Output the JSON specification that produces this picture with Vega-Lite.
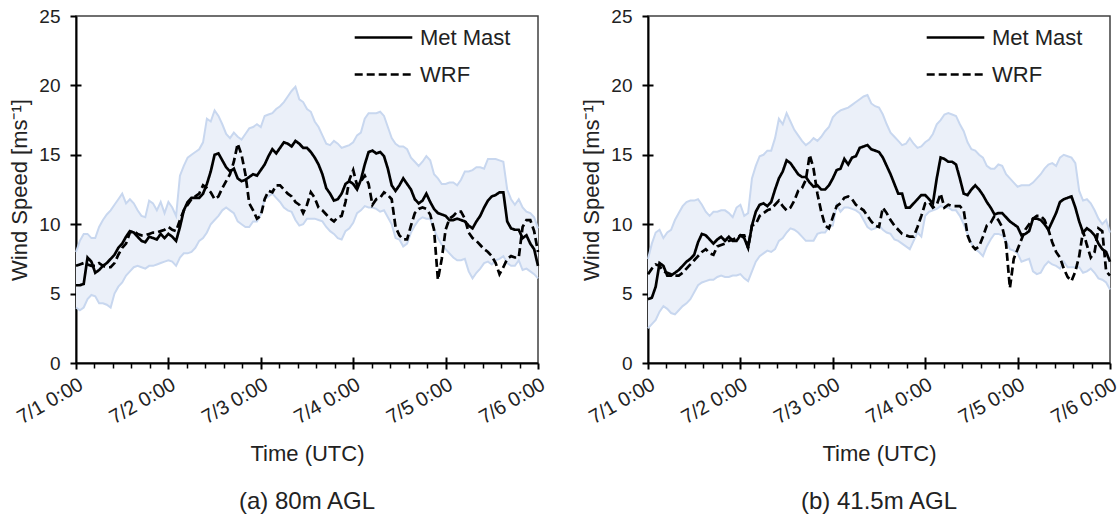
{
"$schema":"https://vega.github.io/schema/vega-lite/v6.json",
"background":"white",
"padding":{"left":8,"top":6,"right":6,"bottom":0},
"config":{
 "font":"Liberation Sans",
 "view":{"stroke":"#404040","strokeWidth":1.5},
 "axis":{"grid":false,"labelFont":"Liberation Sans","labelFontSize":19,"labelColor":"#222","titleFont":"Liberation Sans","titleFontSize":22,"titleFontWeight":"normal","titleColor":"#222","domainColor":"#000","domainWidth":2,"tickColor":"#000","tickWidth":2},
 "legend":{"labelFont":"Liberation Sans","labelFontSize":22,"labelColor":"#222"},
 "title":{"font":"Liberation Sans","fontSize":24,"fontWeight":"normal","color":"#222"}
},
"datasets":{"wind":[
{"p":"a","t":"2019-07-01T00:00Z","Met Mast":5.6,"WRF":7.0,"lo":4.0,"hi":8.0},
{"p":"a","t":"2019-07-01T01:00Z","Met Mast":5.6,"WRF":7.1,"lo":3.8,"hi":8.8},
{"p":"a","t":"2019-07-01T02:00Z","Met Mast":5.7,"WRF":7.2,"lo":4.0,"hi":9.3},
{"p":"a","t":"2019-07-01T03:00Z","Met Mast":7.6,"WRF":7.1,"lo":4.6,"hi":9.3},
{"p":"a","t":"2019-07-01T04:00Z","Met Mast":7.3,"WRF":7.0,"lo":4.9,"hi":9.0},
{"p":"a","t":"2019-07-01T05:00Z","Met Mast":6.5,"WRF":7.0,"lo":4.8,"hi":9.0},
{"p":"a","t":"2019-07-01T06:00Z","Met Mast":6.7,"WRF":7.2,"lo":4.3,"hi":9.8},
{"p":"a","t":"2019-07-01T07:00Z","Met Mast":7.0,"WRF":7.0,"lo":4.3,"hi":10.3},
{"p":"a","t":"2019-07-01T08:00Z","Met Mast":7.2,"WRF":6.9,"lo":4.2,"hi":10.7},
{"p":"a","t":"2019-07-01T09:00Z","Met Mast":7.5,"WRF":6.9,"lo":4.0,"hi":11.0},
{"p":"a","t":"2019-07-01T10:00Z","Met Mast":7.8,"WRF":7.2,"lo":5.0,"hi":11.4},
{"p":"a","t":"2019-07-01T11:00Z","Met Mast":8.3,"WRF":7.8,"lo":5.5,"hi":11.8},
{"p":"a","t":"2019-07-01T12:00Z","Met Mast":8.6,"WRF":8.3,"lo":5.8,"hi":12.2},
{"p":"a","t":"2019-07-01T13:00Z","Met Mast":9.1,"WRF":8.6,"lo":6.3,"hi":11.5},
{"p":"a","t":"2019-07-01T14:00Z","Met Mast":9.5,"WRF":9.4,"lo":6.6,"hi":11.8},
{"p":"a","t":"2019-07-01T15:00Z","Met Mast":9.4,"WRF":9.5,"lo":6.9,"hi":11.5},
{"p":"a","t":"2019-07-01T16:00Z","Met Mast":9.1,"WRF":9.3,"lo":7.0,"hi":11.0},
{"p":"a","t":"2019-07-01T17:00Z","Met Mast":8.8,"WRF":9.2,"lo":6.9,"hi":10.6},
{"p":"a","t":"2019-07-01T18:00Z","Met Mast":8.7,"WRF":9.2,"lo":6.8,"hi":10.5},
{"p":"a","t":"2019-07-01T19:00Z","Met Mast":9.1,"WRF":9.3,"lo":7.0,"hi":11.7},
{"p":"a","t":"2019-07-01T20:00Z","Met Mast":9.0,"WRF":9.4,"lo":7.0,"hi":11.5},
{"p":"a","t":"2019-07-01T21:00Z","Met Mast":8.9,"WRF":9.4,"lo":7.1,"hi":11.0},
{"p":"a","t":"2019-07-01T22:00Z","Met Mast":9.3,"WRF":9.5,"lo":7.2,"hi":11.6},
{"p":"a","t":"2019-07-01T23:00Z","Met Mast":9.0,"WRF":9.6,"lo":7.3,"hi":10.8},
{"p":"a","t":"2019-07-02T00:00Z","Met Mast":9.3,"WRF":9.8,"lo":7.4,"hi":11.6},
{"p":"a","t":"2019-07-02T01:00Z","Met Mast":9.1,"WRF":9.6,"lo":7.3,"hi":11.2},
{"p":"a","t":"2019-07-02T02:00Z","Met Mast":8.8,"WRF":9.5,"lo":7.0,"hi":10.6},
{"p":"a","t":"2019-07-02T03:00Z","Met Mast":9.8,"WRF":10.3,"lo":7.6,"hi":13.5},
{"p":"a","t":"2019-07-02T04:00Z","Met Mast":11.0,"WRF":11.0,"lo":7.9,"hi":14.2},
{"p":"a","t":"2019-07-02T05:00Z","Met Mast":11.6,"WRF":11.4,"lo":7.9,"hi":14.8},
{"p":"a","t":"2019-07-02T06:00Z","Met Mast":11.9,"WRF":11.8,"lo":8.0,"hi":15.0},
{"p":"a","t":"2019-07-02T07:00Z","Met Mast":11.9,"WRF":12.0,"lo":8.3,"hi":15.2},
{"p":"a","t":"2019-07-02T08:00Z","Met Mast":11.9,"WRF":12.2,"lo":8.8,"hi":15.4},
{"p":"a","t":"2019-07-02T09:00Z","Met Mast":12.2,"WRF":12.8,"lo":9.0,"hi":15.9},
{"p":"a","t":"2019-07-02T10:00Z","Met Mast":12.9,"WRF":12.6,"lo":9.4,"hi":17.6},
{"p":"a","t":"2019-07-02T11:00Z","Met Mast":13.8,"WRF":12.3,"lo":10.0,"hi":17.4},
{"p":"a","t":"2019-07-02T12:00Z","Met Mast":15.0,"WRF":11.8,"lo":10.3,"hi":18.2},
{"p":"a","t":"2019-07-02T13:00Z","Met Mast":15.1,"WRF":12.0,"lo":10.6,"hi":17.8},
{"p":"a","t":"2019-07-02T14:00Z","Met Mast":14.6,"WRF":12.6,"lo":11.0,"hi":17.2},
{"p":"a","t":"2019-07-02T15:00Z","Met Mast":14.1,"WRF":13.1,"lo":11.2,"hi":16.5},
{"p":"a","t":"2019-07-02T16:00Z","Met Mast":13.8,"WRF":13.6,"lo":11.0,"hi":16.2},
{"p":"a","t":"2019-07-02T17:00Z","Met Mast":14.0,"WRF":14.5,"lo":10.8,"hi":16.6},
{"p":"a","t":"2019-07-02T18:00Z","Met Mast":13.3,"WRF":15.8,"lo":10.2,"hi":16.3},
{"p":"a","t":"2019-07-02T19:00Z","Met Mast":13.1,"WRF":15.0,"lo":10.0,"hi":16.1},
{"p":"a","t":"2019-07-02T20:00Z","Met Mast":13.2,"WRF":13.6,"lo":9.8,"hi":16.5},
{"p":"a","t":"2019-07-02T21:00Z","Met Mast":13.4,"WRF":11.5,"lo":9.8,"hi":16.9},
{"p":"a","t":"2019-07-02T22:00Z","Met Mast":13.6,"WRF":11.0,"lo":10.2,"hi":17.0},
{"p":"a","t":"2019-07-02T23:00Z","Met Mast":13.5,"WRF":10.4,"lo":10.2,"hi":17.2},
{"p":"a","t":"2019-07-03T00:00Z","Met Mast":13.9,"WRF":10.6,"lo":10.7,"hi":17.0},
{"p":"a","t":"2019-07-03T01:00Z","Met Mast":14.3,"WRF":11.8,"lo":11.8,"hi":17.8},
{"p":"a","t":"2019-07-03T02:00Z","Met Mast":14.9,"WRF":12.4,"lo":12.0,"hi":17.9},
{"p":"a","t":"2019-07-03T03:00Z","Met Mast":15.4,"WRF":12.3,"lo":12.2,"hi":18.0},
{"p":"a","t":"2019-07-03T04:00Z","Met Mast":15.1,"WRF":12.8,"lo":11.9,"hi":18.3},
{"p":"a","t":"2019-07-03T05:00Z","Met Mast":15.5,"WRF":12.8,"lo":11.6,"hi":18.5},
{"p":"a","t":"2019-07-03T06:00Z","Met Mast":15.9,"WRF":12.5,"lo":11.2,"hi":18.8},
{"p":"a","t":"2019-07-03T07:00Z","Met Mast":15.8,"WRF":12.2,"lo":11.0,"hi":19.2},
{"p":"a","t":"2019-07-03T08:00Z","Met Mast":15.6,"WRF":12.0,"lo":10.9,"hi":19.6},
{"p":"a","t":"2019-07-03T09:00Z","Met Mast":16.0,"WRF":11.6,"lo":10.3,"hi":19.9},
{"p":"a","t":"2019-07-03T10:00Z","Met Mast":15.8,"WRF":11.4,"lo":9.9,"hi":19.0},
{"p":"a","t":"2019-07-03T11:00Z","Met Mast":15.5,"WRF":10.8,"lo":10.0,"hi":18.8},
{"p":"a","t":"2019-07-03T12:00Z","Met Mast":15.5,"WRF":11.4,"lo":10.4,"hi":18.3},
{"p":"a","t":"2019-07-03T13:00Z","Met Mast":15.2,"WRF":12.3,"lo":10.4,"hi":18.1},
{"p":"a","t":"2019-07-03T14:00Z","Met Mast":14.8,"WRF":11.9,"lo":10.4,"hi":17.4},
{"p":"a","t":"2019-07-03T15:00Z","Met Mast":14.3,"WRF":11.2,"lo":10.3,"hi":17.0},
{"p":"a","t":"2019-07-03T16:00Z","Met Mast":13.6,"WRF":11.0,"lo":10.2,"hi":16.4},
{"p":"a","t":"2019-07-03T17:00Z","Met Mast":12.6,"WRF":10.7,"lo":9.8,"hi":15.8},
{"p":"a","t":"2019-07-03T18:00Z","Met Mast":12.2,"WRF":10.4,"lo":9.5,"hi":15.7},
{"p":"a","t":"2019-07-03T19:00Z","Met Mast":11.7,"WRF":10.2,"lo":9.3,"hi":16.0},
{"p":"a","t":"2019-07-03T20:00Z","Met Mast":11.8,"WRF":10.5,"lo":9.0,"hi":15.8},
{"p":"a","t":"2019-07-03T21:00Z","Met Mast":12.2,"WRF":10.6,"lo":8.9,"hi":15.5},
{"p":"a","t":"2019-07-03T22:00Z","Met Mast":12.9,"WRF":11.6,"lo":9.5,"hi":15.6},
{"p":"a","t":"2019-07-03T23:00Z","Met Mast":13.1,"WRF":13.2,"lo":9.7,"hi":15.7},
{"p":"a","t":"2019-07-04T00:00Z","Met Mast":12.9,"WRF":13.9,"lo":10.1,"hi":15.9},
{"p":"a","t":"2019-07-04T01:00Z","Met Mast":12.5,"WRF":12.8,"lo":10.8,"hi":16.4},
{"p":"a","t":"2019-07-04T02:00Z","Met Mast":13.2,"WRF":13.1,"lo":11.0,"hi":16.6},
{"p":"a","t":"2019-07-04T03:00Z","Met Mast":14.3,"WRF":13.5,"lo":11.3,"hi":17.6},
{"p":"a","t":"2019-07-04T04:00Z","Met Mast":15.2,"WRF":12.9,"lo":11.2,"hi":18.0},
{"p":"a","t":"2019-07-04T05:00Z","Met Mast":15.3,"WRF":11.4,"lo":11.2,"hi":18.0},
{"p":"a","t":"2019-07-04T06:00Z","Met Mast":15.1,"WRF":11.8,"lo":11.1,"hi":18.0},
{"p":"a","t":"2019-07-04T07:00Z","Met Mast":15.2,"WRF":11.9,"lo":10.9,"hi":18.1},
{"p":"a","t":"2019-07-04T08:00Z","Met Mast":14.9,"WRF":12.3,"lo":11.0,"hi":17.8},
{"p":"a","t":"2019-07-04T09:00Z","Met Mast":14.0,"WRF":12.1,"lo":10.5,"hi":17.0},
{"p":"a","t":"2019-07-04T10:00Z","Met Mast":12.8,"WRF":11.8,"lo":10.0,"hi":16.2},
{"p":"a","t":"2019-07-04T11:00Z","Met Mast":12.4,"WRF":9.8,"lo":9.0,"hi":15.8},
{"p":"a","t":"2019-07-04T12:00Z","Met Mast":12.8,"WRF":9.2,"lo":8.9,"hi":15.6},
{"p":"a","t":"2019-07-04T13:00Z","Met Mast":13.3,"WRF":8.9,"lo":8.4,"hi":15.6},
{"p":"a","t":"2019-07-04T14:00Z","Met Mast":12.9,"WRF":8.9,"lo":8.6,"hi":15.4},
{"p":"a","t":"2019-07-04T15:00Z","Met Mast":12.5,"WRF":9.9,"lo":9.4,"hi":14.8},
{"p":"a","t":"2019-07-04T16:00Z","Met Mast":11.8,"WRF":10.8,"lo":9.9,"hi":14.5},
{"p":"a","t":"2019-07-04T17:00Z","Met Mast":11.5,"WRF":11.1,"lo":10.3,"hi":14.2},
{"p":"a","t":"2019-07-04T18:00Z","Met Mast":11.7,"WRF":11.2,"lo":10.5,"hi":14.5},
{"p":"a","t":"2019-07-04T19:00Z","Met Mast":12.2,"WRF":11.1,"lo":10.4,"hi":14.9},
{"p":"a","t":"2019-07-04T20:00Z","Met Mast":11.6,"WRF":10.7,"lo":10.4,"hi":14.6},
{"p":"a","t":"2019-07-04T21:00Z","Met Mast":11.1,"WRF":9.6,"lo":9.6,"hi":13.6},
{"p":"a","t":"2019-07-04T22:00Z","Met Mast":10.8,"WRF":6.0,"lo":9.0,"hi":13.3},
{"p":"a","t":"2019-07-04T23:00Z","Met Mast":10.7,"WRF":7.5,"lo":8.5,"hi":12.9},
{"p":"a","t":"2019-07-05T00:00Z","Met Mast":10.6,"WRF":9.6,"lo":8.2,"hi":12.9},
{"p":"a","t":"2019-07-05T01:00Z","Met Mast":10.3,"WRF":10.4,"lo":7.9,"hi":13.0},
{"p":"a","t":"2019-07-05T02:00Z","Met Mast":10.3,"WRF":10.6,"lo":7.6,"hi":13.0},
{"p":"a","t":"2019-07-05T03:00Z","Met Mast":10.4,"WRF":10.9,"lo":7.4,"hi":12.8},
{"p":"a","t":"2019-07-05T04:00Z","Met Mast":10.3,"WRF":10.9,"lo":7.4,"hi":13.2},
{"p":"a","t":"2019-07-05T05:00Z","Met Mast":10.2,"WRF":10.4,"lo":7.5,"hi":13.8},
{"p":"a","t":"2019-07-05T06:00Z","Met Mast":9.9,"WRF":9.4,"lo":6.6,"hi":13.8},
{"p":"a","t":"2019-07-05T07:00Z","Met Mast":9.7,"WRF":9.0,"lo":6.1,"hi":13.9},
{"p":"a","t":"2019-07-05T08:00Z","Met Mast":10.2,"WRF":8.8,"lo":6.5,"hi":14.1},
{"p":"a","t":"2019-07-05T09:00Z","Met Mast":10.6,"WRF":8.5,"lo":6.8,"hi":14.1},
{"p":"a","t":"2019-07-05T10:00Z","Met Mast":11.2,"WRF":8.2,"lo":7.2,"hi":14.0},
{"p":"a","t":"2019-07-05T11:00Z","Met Mast":11.7,"WRF":8.0,"lo":7.3,"hi":14.7},
{"p":"a","t":"2019-07-05T12:00Z","Met Mast":12.0,"WRF":7.7,"lo":7.1,"hi":14.7},
{"p":"a","t":"2019-07-05T13:00Z","Met Mast":12.1,"WRF":7.2,"lo":7.4,"hi":14.7},
{"p":"a","t":"2019-07-05T14:00Z","Met Mast":12.3,"WRF":6.4,"lo":7.5,"hi":14.6},
{"p":"a","t":"2019-07-05T15:00Z","Met Mast":12.3,"WRF":6.9,"lo":7.7,"hi":14.5},
{"p":"a","t":"2019-07-05T16:00Z","Met Mast":10.2,"WRF":7.5,"lo":7.2,"hi":12.5},
{"p":"a","t":"2019-07-05T17:00Z","Met Mast":9.7,"WRF":7.7,"lo":7.0,"hi":11.8},
{"p":"a","t":"2019-07-05T18:00Z","Met Mast":9.6,"WRF":7.6,"lo":7.0,"hi":11.4},
{"p":"a","t":"2019-07-05T19:00Z","Met Mast":9.6,"WRF":7.6,"lo":7.4,"hi":11.8},
{"p":"a","t":"2019-07-05T20:00Z","Met Mast":9.0,"WRF":9.8,"lo":6.7,"hi":11.2},
{"p":"a","t":"2019-07-05T21:00Z","Met Mast":9.2,"WRF":10.3,"lo":6.8,"hi":10.9},
{"p":"a","t":"2019-07-05T22:00Z","Met Mast":8.6,"WRF":10.3,"lo":6.6,"hi":10.8},
{"p":"a","t":"2019-07-05T23:00Z","Met Mast":8.2,"WRF":9.5,"lo":6.4,"hi":10.5},
{"p":"a","t":"2019-07-06T00:00Z","Met Mast":7.0,"WRF":8.0,"lo":6.1,"hi":9.7},
{"p":"b","t":"2019-07-01T00:00Z","Met Mast":4.6,"WRF":6.4,"lo":2.5,"hi":7.5},
{"p":"b","t":"2019-07-01T01:00Z","Met Mast":4.7,"WRF":6.8,"lo":2.8,"hi":8.6},
{"p":"b","t":"2019-07-01T02:00Z","Met Mast":5.5,"WRF":7.1,"lo":3.1,"hi":9.4},
{"p":"b","t":"2019-07-01T03:00Z","Met Mast":7.2,"WRF":7.0,"lo":3.7,"hi":9.6},
{"p":"b","t":"2019-07-01T04:00Z","Met Mast":7.0,"WRF":6.6,"lo":4.1,"hi":9.0},
{"p":"b","t":"2019-07-01T05:00Z","Met Mast":6.3,"WRF":6.5,"lo":3.9,"hi":9.4},
{"p":"b","t":"2019-07-01T06:00Z","Met Mast":6.3,"WRF":6.4,"lo":3.6,"hi":9.6},
{"p":"b","t":"2019-07-01T07:00Z","Met Mast":6.5,"WRF":6.3,"lo":3.5,"hi":10.3},
{"p":"b","t":"2019-07-01T08:00Z","Met Mast":6.7,"WRF":6.3,"lo":3.8,"hi":10.8},
{"p":"b","t":"2019-07-01T09:00Z","Met Mast":7.0,"WRF":6.5,"lo":4.1,"hi":11.3},
{"p":"b","t":"2019-07-01T10:00Z","Met Mast":7.3,"WRF":6.8,"lo":4.3,"hi":11.6},
{"p":"b","t":"2019-07-01T11:00Z","Met Mast":7.5,"WRF":7.1,"lo":4.6,"hi":11.7},
{"p":"b","t":"2019-07-01T12:00Z","Met Mast":7.8,"WRF":7.4,"lo":5.1,"hi":11.7},
{"p":"b","t":"2019-07-01T13:00Z","Met Mast":8.7,"WRF":7.7,"lo":5.6,"hi":11.8},
{"p":"b","t":"2019-07-01T14:00Z","Met Mast":9.3,"WRF":8.0,"lo":5.8,"hi":11.4},
{"p":"b","t":"2019-07-01T15:00Z","Met Mast":9.2,"WRF":8.2,"lo":5.9,"hi":10.9},
{"p":"b","t":"2019-07-01T16:00Z","Met Mast":8.9,"WRF":7.9,"lo":6.0,"hi":10.6},
{"p":"b","t":"2019-07-01T17:00Z","Met Mast":8.6,"WRF":7.8,"lo":6.0,"hi":10.9},
{"p":"b","t":"2019-07-01T18:00Z","Met Mast":8.9,"WRF":8.4,"lo":6.2,"hi":10.9},
{"p":"b","t":"2019-07-01T19:00Z","Met Mast":9.1,"WRF":8.5,"lo":6.3,"hi":11.0},
{"p":"b","t":"2019-07-01T20:00Z","Met Mast":8.8,"WRF":8.6,"lo":6.2,"hi":11.0},
{"p":"b","t":"2019-07-01T21:00Z","Met Mast":9.1,"WRF":8.8,"lo":6.2,"hi":10.8},
{"p":"b","t":"2019-07-01T22:00Z","Met Mast":8.8,"WRF":8.9,"lo":6.3,"hi":10.5},
{"p":"b","t":"2019-07-01T23:00Z","Met Mast":8.8,"WRF":9.0,"lo":6.3,"hi":11.2},
{"p":"b","t":"2019-07-02T00:00Z","Met Mast":9.2,"WRF":9.2,"lo":6.4,"hi":11.4},
{"p":"b","t":"2019-07-02T01:00Z","Met Mast":9.0,"WRF":9.2,"lo":6.1,"hi":10.6},
{"p":"b","t":"2019-07-02T02:00Z","Met Mast":8.3,"WRF":8.3,"lo":5.9,"hi":10.8},
{"p":"b","t":"2019-07-02T03:00Z","Met Mast":9.9,"WRF":9.9,"lo":6.6,"hi":13.3},
{"p":"b","t":"2019-07-02T04:00Z","Met Mast":10.9,"WRF":10.0,"lo":7.3,"hi":14.2},
{"p":"b","t":"2019-07-02T05:00Z","Met Mast":11.4,"WRF":10.6,"lo":7.7,"hi":14.9},
{"p":"b","t":"2019-07-02T06:00Z","Met Mast":11.5,"WRF":10.8,"lo":7.9,"hi":15.0},
{"p":"b","t":"2019-07-02T07:00Z","Met Mast":11.3,"WRF":11.0,"lo":8.1,"hi":15.3},
{"p":"b","t":"2019-07-02T08:00Z","Met Mast":11.6,"WRF":11.1,"lo":8.0,"hi":15.3},
{"p":"b","t":"2019-07-02T09:00Z","Met Mast":12.5,"WRF":11.4,"lo":8.2,"hi":16.2},
{"p":"b","t":"2019-07-02T10:00Z","Met Mast":13.3,"WRF":11.7,"lo":8.8,"hi":17.6},
{"p":"b","t":"2019-07-02T11:00Z","Met Mast":13.8,"WRF":11.3,"lo":9.0,"hi":17.2},
{"p":"b","t":"2019-07-02T12:00Z","Met Mast":14.6,"WRF":11.0,"lo":9.4,"hi":18.0},
{"p":"b","t":"2019-07-02T13:00Z","Met Mast":14.4,"WRF":11.2,"lo":9.7,"hi":17.4},
{"p":"b","t":"2019-07-02T14:00Z","Met Mast":14.0,"WRF":11.7,"lo":9.6,"hi":16.8},
{"p":"b","t":"2019-07-02T15:00Z","Met Mast":13.6,"WRF":12.4,"lo":9.4,"hi":16.4},
{"p":"b","t":"2019-07-02T16:00Z","Met Mast":13.4,"WRF":12.6,"lo":9.1,"hi":16.0},
{"p":"b","t":"2019-07-02T17:00Z","Met Mast":13.4,"WRF":13.2,"lo":8.8,"hi":15.7},
{"p":"b","t":"2019-07-02T18:00Z","Met Mast":13.0,"WRF":15.0,"lo":8.8,"hi":15.9},
{"p":"b","t":"2019-07-02T19:00Z","Met Mast":12.7,"WRF":14.0,"lo":8.8,"hi":16.2},
{"p":"b","t":"2019-07-02T20:00Z","Met Mast":12.8,"WRF":12.2,"lo":9.3,"hi":16.0},
{"p":"b","t":"2019-07-02T21:00Z","Met Mast":12.5,"WRF":10.9,"lo":9.4,"hi":16.3},
{"p":"b","t":"2019-07-02T22:00Z","Met Mast":12.5,"WRF":9.9,"lo":9.4,"hi":16.7},
{"p":"b","t":"2019-07-02T23:00Z","Met Mast":12.8,"WRF":9.7,"lo":9.8,"hi":17.0},
{"p":"b","t":"2019-07-03T00:00Z","Met Mast":13.3,"WRF":10.5,"lo":9.9,"hi":17.7},
{"p":"b","t":"2019-07-03T01:00Z","Met Mast":13.9,"WRF":11.3,"lo":11.4,"hi":18.0},
{"p":"b","t":"2019-07-03T02:00Z","Met Mast":14.0,"WRF":11.5,"lo":10.9,"hi":18.2},
{"p":"b","t":"2019-07-03T03:00Z","Met Mast":14.7,"WRF":11.9,"lo":11.2,"hi":18.3},
{"p":"b","t":"2019-07-03T04:00Z","Met Mast":14.3,"WRF":12.0,"lo":11.2,"hi":18.4},
{"p":"b","t":"2019-07-03T05:00Z","Met Mast":14.8,"WRF":11.8,"lo":11.1,"hi":18.6},
{"p":"b","t":"2019-07-03T06:00Z","Met Mast":14.9,"WRF":11.4,"lo":11.0,"hi":18.8},
{"p":"b","t":"2019-07-03T07:00Z","Met Mast":15.5,"WRF":11.2,"lo":10.8,"hi":19.0},
{"p":"b","t":"2019-07-03T08:00Z","Met Mast":15.6,"WRF":11.0,"lo":10.3,"hi":19.2},
{"p":"b","t":"2019-07-03T09:00Z","Met Mast":15.7,"WRF":10.6,"lo":9.8,"hi":19.3},
{"p":"b","t":"2019-07-03T10:00Z","Met Mast":15.4,"WRF":10.2,"lo":9.6,"hi":18.7},
{"p":"b","t":"2019-07-03T11:00Z","Met Mast":15.3,"WRF":9.9,"lo":9.7,"hi":18.5},
{"p":"b","t":"2019-07-03T12:00Z","Met Mast":15.2,"WRF":9.8,"lo":9.9,"hi":18.4},
{"p":"b","t":"2019-07-03T13:00Z","Met Mast":14.8,"WRF":11.2,"lo":9.6,"hi":17.9},
{"p":"b","t":"2019-07-03T14:00Z","Met Mast":14.2,"WRF":10.8,"lo":9.4,"hi":17.2},
{"p":"b","t":"2019-07-03T15:00Z","Met Mast":13.6,"WRF":10.3,"lo":9.3,"hi":16.6},
{"p":"b","t":"2019-07-03T16:00Z","Met Mast":12.9,"WRF":9.9,"lo":8.9,"hi":16.3},
{"p":"b","t":"2019-07-03T17:00Z","Met Mast":12.2,"WRF":9.6,"lo":8.8,"hi":16.0},
{"p":"b","t":"2019-07-03T18:00Z","Met Mast":12.2,"WRF":9.3,"lo":8.6,"hi":15.7},
{"p":"b","t":"2019-07-03T19:00Z","Met Mast":11.2,"WRF":9.2,"lo":8.4,"hi":15.8},
{"p":"b","t":"2019-07-03T20:00Z","Met Mast":11.2,"WRF":9.1,"lo":8.2,"hi":16.2},
{"p":"b","t":"2019-07-03T21:00Z","Met Mast":11.5,"WRF":9.1,"lo":8.8,"hi":15.8},
{"p":"b","t":"2019-07-03T22:00Z","Met Mast":11.8,"WRF":9.8,"lo":9.4,"hi":15.5},
{"p":"b","t":"2019-07-03T23:00Z","Met Mast":12.1,"WRF":10.6,"lo":9.1,"hi":15.6},
{"p":"b","t":"2019-07-04T00:00Z","Met Mast":12.1,"WRF":11.5,"lo":10.6,"hi":15.9},
{"p":"b","t":"2019-07-04T01:00Z","Met Mast":11.8,"WRF":11.6,"lo":10.9,"hi":16.1},
{"p":"b","t":"2019-07-04T02:00Z","Met Mast":11.5,"WRF":11.2,"lo":11.0,"hi":16.5},
{"p":"b","t":"2019-07-04T03:00Z","Met Mast":13.3,"WRF":11.4,"lo":11.1,"hi":17.2},
{"p":"b","t":"2019-07-04T04:00Z","Met Mast":14.8,"WRF":12.2,"lo":11.3,"hi":17.5},
{"p":"b","t":"2019-07-04T05:00Z","Met Mast":14.7,"WRF":11.2,"lo":11.2,"hi":17.9},
{"p":"b","t":"2019-07-04T06:00Z","Met Mast":14.5,"WRF":11.4,"lo":11.2,"hi":18.0},
{"p":"b","t":"2019-07-04T07:00Z","Met Mast":14.5,"WRF":11.3,"lo":11.0,"hi":17.9},
{"p":"b","t":"2019-07-04T08:00Z","Met Mast":14.3,"WRF":11.3,"lo":11.0,"hi":17.8},
{"p":"b","t":"2019-07-04T09:00Z","Met Mast":13.3,"WRF":11.3,"lo":10.6,"hi":17.2},
{"p":"b","t":"2019-07-04T10:00Z","Met Mast":12.2,"WRF":11.0,"lo":10.0,"hi":16.7},
{"p":"b","t":"2019-07-04T11:00Z","Met Mast":12.1,"WRF":9.2,"lo":9.3,"hi":15.9},
{"p":"b","t":"2019-07-04T12:00Z","Met Mast":12.5,"WRF":8.5,"lo":8.6,"hi":15.4},
{"p":"b","t":"2019-07-04T13:00Z","Met Mast":12.8,"WRF":8.2,"lo":8.2,"hi":15.3},
{"p":"b","t":"2019-07-04T14:00Z","Met Mast":12.5,"WRF":8.4,"lo":8.0,"hi":15.0},
{"p":"b","t":"2019-07-04T15:00Z","Met Mast":12.1,"WRF":9.1,"lo":7.7,"hi":14.8},
{"p":"b","t":"2019-07-04T16:00Z","Met Mast":11.6,"WRF":9.9,"lo":8.4,"hi":14.2},
{"p":"b","t":"2019-07-04T17:00Z","Met Mast":11.2,"WRF":10.1,"lo":8.9,"hi":14.0},
{"p":"b","t":"2019-07-04T18:00Z","Met Mast":10.7,"WRF":10.6,"lo":9.3,"hi":14.0},
{"p":"b","t":"2019-07-04T19:00Z","Met Mast":10.8,"WRF":10.3,"lo":9.3,"hi":14.3},
{"p":"b","t":"2019-07-04T20:00Z","Met Mast":10.8,"WRF":9.8,"lo":9.2,"hi":14.2},
{"p":"b","t":"2019-07-04T21:00Z","Met Mast":10.5,"WRF":8.6,"lo":8.8,"hi":13.6},
{"p":"b","t":"2019-07-04T22:00Z","Met Mast":10.2,"WRF":5.4,"lo":8.2,"hi":13.3},
{"p":"b","t":"2019-07-04T23:00Z","Met Mast":10.0,"WRF":7.5,"lo":8.1,"hi":13.0},
{"p":"b","t":"2019-07-05T00:00Z","Met Mast":9.8,"WRF":8.2,"lo":7.9,"hi":12.7},
{"p":"b","t":"2019-07-05T01:00Z","Met Mast":9.2,"WRF":8.9,"lo":7.3,"hi":12.8},
{"p":"b","t":"2019-07-05T02:00Z","Met Mast":9.3,"WRF":9.6,"lo":7.4,"hi":12.8},
{"p":"b","t":"2019-07-05T03:00Z","Met Mast":9.5,"WRF":10.0,"lo":7.5,"hi":12.8},
{"p":"b","t":"2019-07-05T04:00Z","Met Mast":10.4,"WRF":10.4,"lo":6.6,"hi":13.0},
{"p":"b","t":"2019-07-05T05:00Z","Met Mast":10.4,"WRF":10.6,"lo":6.4,"hi":13.3},
{"p":"b","t":"2019-07-05T06:00Z","Met Mast":10.3,"WRF":10.6,"lo":6.5,"hi":13.6},
{"p":"b","t":"2019-07-05T07:00Z","Met Mast":10.0,"WRF":10.3,"lo":7.0,"hi":14.0},
{"p":"b","t":"2019-07-05T08:00Z","Met Mast":9.6,"WRF":9.6,"lo":7.3,"hi":14.3},
{"p":"b","t":"2019-07-05T09:00Z","Met Mast":10.2,"WRF":8.7,"lo":7.1,"hi":14.4},
{"p":"b","t":"2019-07-05T10:00Z","Met Mast":10.8,"WRF":8.0,"lo":7.0,"hi":14.2},
{"p":"b","t":"2019-07-05T11:00Z","Met Mast":11.6,"WRF":7.6,"lo":6.8,"hi":14.8},
{"p":"b","t":"2019-07-05T12:00Z","Met Mast":11.8,"WRF":6.8,"lo":7.3,"hi":15.0},
{"p":"b","t":"2019-07-05T13:00Z","Met Mast":11.9,"WRF":6.2,"lo":6.9,"hi":14.9},
{"p":"b","t":"2019-07-05T14:00Z","Met Mast":12.0,"WRF":5.9,"lo":6.9,"hi":14.8},
{"p":"b","t":"2019-07-05T15:00Z","Met Mast":11.2,"WRF":6.6,"lo":6.9,"hi":14.4},
{"p":"b","t":"2019-07-05T16:00Z","Met Mast":10.2,"WRF":7.7,"lo":6.9,"hi":12.4},
{"p":"b","t":"2019-07-05T17:00Z","Met Mast":9.4,"WRF":9.5,"lo":6.5,"hi":11.7},
{"p":"b","t":"2019-07-05T18:00Z","Met Mast":9.7,"WRF":8.5,"lo":6.6,"hi":11.8},
{"p":"b","t":"2019-07-05T19:00Z","Met Mast":9.5,"WRF":7.6,"lo":6.8,"hi":11.5},
{"p":"b","t":"2019-07-05T20:00Z","Met Mast":9.2,"WRF":8.0,"lo":6.5,"hi":11.0},
{"p":"b","t":"2019-07-05T21:00Z","Met Mast":8.6,"WRF":9.7,"lo":6.1,"hi":10.4},
{"p":"b","t":"2019-07-05T22:00Z","Met Mast":8.2,"WRF":9.5,"lo":6.0,"hi":10.0},
{"p":"b","t":"2019-07-05T23:00Z","Met Mast":8.0,"WRF":6.6,"lo":5.8,"hi":10.3},
{"p":"b","t":"2019-07-06T00:00Z","Met Mast":7.3,"WRF":6.3,"lo":5.3,"hi":9.4}
]},
"spacing":31,
"resolve":{"legend":{"strokeDash":"independent"},"scale":{"strokeDash":"independent"}},
"hconcat":[
{
 "width":462,"height":347,
 "data":{"name":"wind"},
 "transform":[{"filter":"datum.p === 'a'"}],
 "title":{"text":"(a) 80m AGL","orient":"bottom","frame":"group","offset":26},
 "resolve":{"axis":{"x":"independent","y":"independent"}},
 "layer":[
  {"mark":{"type":"area","color":"#ebf0f9"},
   "encoding":{
    "x":{"field":"t","type":"temporal","scale":{"type":"utc","domain":[1561939200000,1562371200000],"nice":false},
         "axis":{"orient":"bottom","values":[1561956480000,1561973760000,1561991040000,1562008320000,1562042880000,1562060160000,1562077440000,1562094720000,1562129280000,1562146560000,1562163840000,1562181120000,1562215680000,1562232960000,1562250240000,1562267520000,1562302080000,1562319360000,1562336640000,1562353920000],"labels":false,"domain":false,"tickSize":5,"tickWidth":1.5,"title":null}},
    "y":{"field":"lo","type":"quantitative","scale":{"domain":[0,25],"nice":false},
         "axis":{"orient":"left","values":[0,5,10,15,20,25],"tickSize":6,"labelPadding":10,"title":"Wind Speed [ms⁻¹]","titlePadding":7}},
    "y2":{"field":"hi"}}},
  {"mark":{"type":"line","color":"#c8d7ef","strokeWidth":2},
   "encoding":{
    "x":{"field":"t","type":"temporal",
         "axis":{"orient":"bottom","values":[1561939200000,1562025600000,1562112000000,1562198400000,1562284800000,1562371200000],"format":"%-m/%-d %-H:%M","labelAngle":-30,"labelFontSize":20,"tickSize":6,"labelPadding":5,"title":"Time (UTC)","titlePadding":16}},
    "y":{"field":"hi","type":"quantitative",
         "axis":{"orient":"left","values":[5,10,15,20],"tickSize":-5,"labels":false,"domain":false,"title":null}}}},
  {"mark":{"type":"line","color":"#c8d7ef","strokeWidth":2},
   "encoding":{
    "x":{"field":"t","type":"temporal",
         "axis":{"orient":"bottom","values":[1562025600000,1562112000000,1562198400000,1562284800000],"tickSize":-6,"labels":false,"domain":false,"title":null}},
    "y":{"field":"lo","type":"quantitative","axis":null}}},
  {"transform":[{"fold":["Met Mast","WRF"],"as":["series","v"]}],
   "mark":{"type":"line","color":"#000","strokeWidth":2.7},
   "encoding":{
    "x":{"field":"t","type":"temporal","axis":null},
    "y":{"field":"v","type":"quantitative","axis":null},
    "strokeDash":{"field":"series","type":"nominal","scale":{"domain":["Met Mast","WRF"],"range":[[1,0],[8,4]]},
      "legend":{"orient":"none","legendX":288,"legendY":2,"title":null,"padding":0,"symbolType":"M-1.6,0H1.6","symbolSize":1296,"symbolStrokeColor":"#000","symbolStrokeWidth":2.7,"labelOffset":17,"rowPadding":6}}}}
 ]
},
{
 "width":462,"height":347,
 "data":{"name":"wind"},
 "transform":[{"filter":"datum.p === 'b'"}],
 "title":{"text":"(b) 41.5m AGL","orient":"bottom","frame":"group","offset":26},
 "resolve":{"axis":{"x":"independent","y":"independent"}},
 "layer":[
  {"mark":{"type":"area","color":"#ebf0f9"},
   "encoding":{
    "x":{"field":"t","type":"temporal","scale":{"type":"utc","domain":[1561939200000,1562371200000],"nice":false},
         "axis":{"orient":"bottom","values":[1561956480000,1561973760000,1561991040000,1562008320000,1562042880000,1562060160000,1562077440000,1562094720000,1562129280000,1562146560000,1562163840000,1562181120000,1562215680000,1562232960000,1562250240000,1562267520000,1562302080000,1562319360000,1562336640000,1562353920000],"labels":false,"domain":false,"tickSize":5,"tickWidth":1.5,"title":null}},
    "y":{"field":"lo","type":"quantitative","scale":{"domain":[0,25],"nice":false},
         "axis":{"orient":"left","values":[0,5,10,15,20,25],"tickSize":6,"labelPadding":10,"title":"Wind Speed [ms⁻¹]","titlePadding":7}},
    "y2":{"field":"hi"}}},
  {"mark":{"type":"line","color":"#c8d7ef","strokeWidth":2},
   "encoding":{
    "x":{"field":"t","type":"temporal",
         "axis":{"orient":"bottom","values":[1561939200000,1562025600000,1562112000000,1562198400000,1562284800000,1562371200000],"format":"%-m/%-d %-H:%M","labelAngle":-30,"labelFontSize":20,"tickSize":6,"labelPadding":5,"title":"Time (UTC)","titlePadding":16}},
    "y":{"field":"hi","type":"quantitative",
         "axis":{"orient":"left","values":[5,10,15,20],"tickSize":-5,"labels":false,"domain":false,"title":null}}}},
  {"mark":{"type":"line","color":"#c8d7ef","strokeWidth":2},
   "encoding":{
    "x":{"field":"t","type":"temporal",
         "axis":{"orient":"bottom","values":[1562025600000,1562112000000,1562198400000,1562284800000],"tickSize":-6,"labels":false,"domain":false,"title":null}},
    "y":{"field":"lo","type":"quantitative","axis":null}}},
  {"transform":[{"fold":["Met Mast","WRF"],"as":["series","v"]}],
   "mark":{"type":"line","color":"#000","strokeWidth":2.7},
   "encoding":{
    "x":{"field":"t","type":"temporal","axis":null},
    "y":{"field":"v","type":"quantitative","axis":null},
    "strokeDash":{"field":"series","type":"nominal","scale":{"domain":["Met Mast","WRF"],"range":[[1,0],[8,4]]},
      "legend":{"orient":"none","legendX":288,"legendY":2,"title":null,"padding":0,"symbolType":"M-1.6,0H1.6","symbolSize":1296,"symbolStrokeColor":"#000","symbolStrokeWidth":2.7,"labelOffset":17,"rowPadding":6}}}}
 ]
}
]
}
